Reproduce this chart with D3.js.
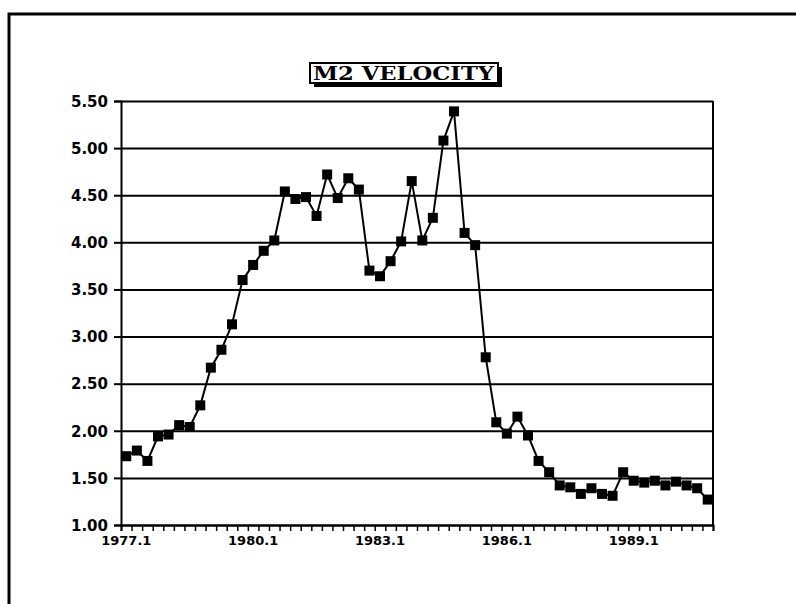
<!DOCTYPE html>
<html>
<head>
<meta charset="utf-8">
<script src="https://cdn.jsdelivr.net/npm/d3@7"></script>
<style>
  body { margin: 0; background: #fff; }
  svg { display: block; }
  .tick text { font-family: "DejaVu Sans", sans-serif; font-weight: bold; fill: #000; }
</style>
</head>
<body>
<svg id="chart" width="796" height="604"></svg>
<script>
// M2 velocity, quarterly 1977.1 - 1990.4
var years = [1977, 1978, 1979, 1980, 1981, 1982, 1983, 1984, 1985, 1986, 1987, 1988, 1989, 1990];
var quarters = [1, 2, 3, 4];
var velocity = [
  1.73, 1.79, 1.68, 1.94, 1.96, 2.06, 2.04, 2.27,
  2.67, 2.86, 3.13, 3.60, 3.76, 3.91, 4.02, 4.54,
  4.46, 4.48, 4.28, 4.72, 4.47, 4.68, 4.56, 3.70,
  3.64, 3.80, 4.01, 4.65, 4.02, 4.26, 5.08, 5.39,
  4.10, 3.97, 2.78, 2.09, 1.97, 2.15, 1.95, 1.68,
  1.56, 1.42, 1.40, 1.33, 1.39, 1.33, 1.31, 1.56,
  1.47, 1.45, 1.47, 1.42, 1.46, 1.42, 1.39, 1.27
];
var yTicks = [1.00, 1.50, 2.00, 2.50, 3.00, 3.50, 4.00, 4.50, 5.00, 5.50];
var xLabels = ['1977.1', '1980.1', '1983.1', '1986.1', '1989.1'];
var title = 'M2 VELOCITY';

// build the category list from years and quarters
var categories = [];
years.forEach(function(yr) {
  quarters.forEach(function(q) {
    categories.push(yr + '.' + q);
  });
});

var svg = d3.select('#chart');

// note: "top" clashes with window.top, so prefix these
var plotLeft = 121, plotRight = 713, plotTop = 101, plotBottom = 525;

// page frame (only top + left edge show in the picture)
svg.append('path')
  .attr('d', 'M9,610 V14 H800')
  .attr('fill', 'none')
  .attr('stroke', '#000')
  .attr('stroke-width', 3);

var x = d3.scaleBand().domain(categories).range([plotLeft, plotRight]);
var xEdge = d3.scaleLinear().domain([0, categories.length]).range([plotLeft, plotRight]);
var y = d3.scaleLinear().domain([1, 5.5]).range([plotBottom, plotTop]);

function getX(d, i) {
  return x(categories[i]) + x.bandwidth() / 2;
}

// horizontal gridlines
svg.append('g')
  .attr('transform', 'translate(' + plotLeft + ',0)')
  .call(d3.axisLeft(y).tickValues(yTicks).tickSize(-(plotRight - plotLeft)).tickFormat(''))
  .call(function(g) { g.select('.domain').remove(); })
  .selectAll('line')
  .attr('stroke', '#000')
  .attr('stroke-width', 2);

// y axis with labels
var yAxis = svg.append('g')
  .attr('transform', 'translate(' + plotLeft + ',0)')
  .call(d3.axisLeft(y).tickValues(yTicks).tickSize(7).tickPadding(6).tickFormat(d3.format('.2f')));
yAxis.select('.domain').attr('stroke-width', 2);
yAxis.selectAll('line').attr('stroke-width', 2);
yAxis.selectAll('text').style('font-size', '15px').attr('dy', '0.35em');

// right edge of plot
svg.append('line')
  .attr('x1', plotRight).attr('x2', plotRight)
  .attr('y1', plotTop).attr('y2', plotBottom)
  .attr('stroke', '#000')
  .attr('stroke-width', 2);

// x axis: tick marks between quarters
var xAxis = svg.append('g')
  .attr('transform', 'translate(0,' + plotBottom + ')')
  .call(d3.axisBottom(xEdge).tickValues(d3.range(categories.length + 1)).tickSize(6).tickFormat(''));
xAxis.select('.domain').attr('stroke-width', 2);
xAxis.selectAll('line').attr('stroke-width', 1.5);

// x labels, every 12th quarter
var xLab = svg.append('g')
  .attr('transform', 'translate(0,' + plotBottom + ')')
  .call(d3.axisBottom(x).tickValues(xLabels).tickSize(0).tickPadding(11));
xLab.select('.domain').remove();
xLab.selectAll('text').style('font-size', '13px');

// the series line
var line = d3.line()
  .x(getX)
  .y(function(d) { return y(d); });

svg.append('path')
  .datum(velocity)
  .attr('d', line)
  .attr('fill', 'none')
  .attr('stroke', '#000')
  .attr('stroke-width', 2);

var sq = 10;
svg.append('g')
  .selectAll('rect')
  .data(velocity)
  .enter()
  .append('rect')
  .attr('x', function(d, i) { return getX(d, i) - sq / 2; })
  .attr('y', function(d) { return y(d) - sq / 2; })
  .attr('width', sq)
  .attr('height', sq)
  .attr('fill', '#000');

// title box with drop shadow
var tx = 310, ty = 63, tw = 188, th = 20;
svg.append('rect')
  .attr('x', tx + 4).attr('y', ty + 4)
  .attr('width', tw).attr('height', th)
  .attr('fill', '#000');
svg.append('rect')
  .attr('x', tx).attr('y', ty)
  .attr('width', tw).attr('height', th)
  .attr('fill', '#fff')
  .attr('stroke', '#000')
  .attr('stroke-width', 2);
svg.append('text')
  .attr('x', tx + 3)
  .attr('y', ty + 17)
  .attr('textLength', tw - 7)
  .attr('lengthAdjust', 'spacingAndGlyphs')
  .style('font-family', '"DejaVu Serif", serif')
  .style('font-weight', 'bold')
  .style('font-size', '18px')
  .text(title);
</script>
</body>
</html>
